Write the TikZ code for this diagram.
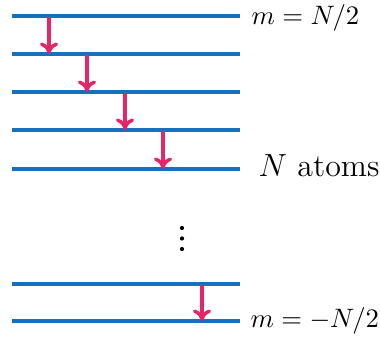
\documentclass[tikz,border=0pt]{standalone}
\usetikzlibrary{arrows.meta}
\definecolor{lvlblue}{RGB}{22,112,190}
\definecolor{arrpink}{RGB}{230,36,104}
\begin{document}
\begin{tikzpicture}[x=0.375pt,y=-0.375pt,
  level/.style={draw=lvlblue,line width=1.2pt},
  decay/.style={draw=arrpink,line width=1.3pt,-{To[length=4.3pt,width=6.8pt,line width=1.3pt]}},
  lbl/.style={anchor=base west,inner sep=0pt,text=black}]
\useasboundingbox (0,0) rectangle (380,340);
% level end points
\foreach \n/\y in {1/16,2/54,3/92,4/130,5/169,6/284,7/321}{
  \coordinate (L\n) at (12,\y);
  \coordinate (R\n) at (240,\y);
  \draw[level] (L\n) -- (R\n);
}
% arrows
\coordinate (a1s) at (49,17);  \coordinate (a1e) at (49,54);
\coordinate (a2s) at (87,55);  \coordinate (a2e) at (87,92);
\coordinate (a3s) at (125,93); \coordinate (a3e) at (125,130);
\coordinate (a4s) at (163,131);\coordinate (a4e) at (163,169);
\coordinate (a5s) at (202,285);\coordinate (a5e) at (202,321);
\draw[decay] (a1s) -- (a1e);
\draw[decay] (a2s) -- (a2e);
\draw[decay] (a3s) -- (a3e);
\draw[decay] (a4s) -- (a4e);
\draw[decay] (a5s) -- (a5e);
% labels
\node[lbl] (top) at (251,25) {$m=N/2$};
\node[lbl,font=\large] (mid) at (258,177) {$N$ atoms};
\node[lbl] (bot) at (250,328) {$m=-N/2$};
% vertical dots
\foreach \y in {228,238.5,249}{
  \fill (182,\y) circle (2.1);
}
\end{tikzpicture}
\end{document}
